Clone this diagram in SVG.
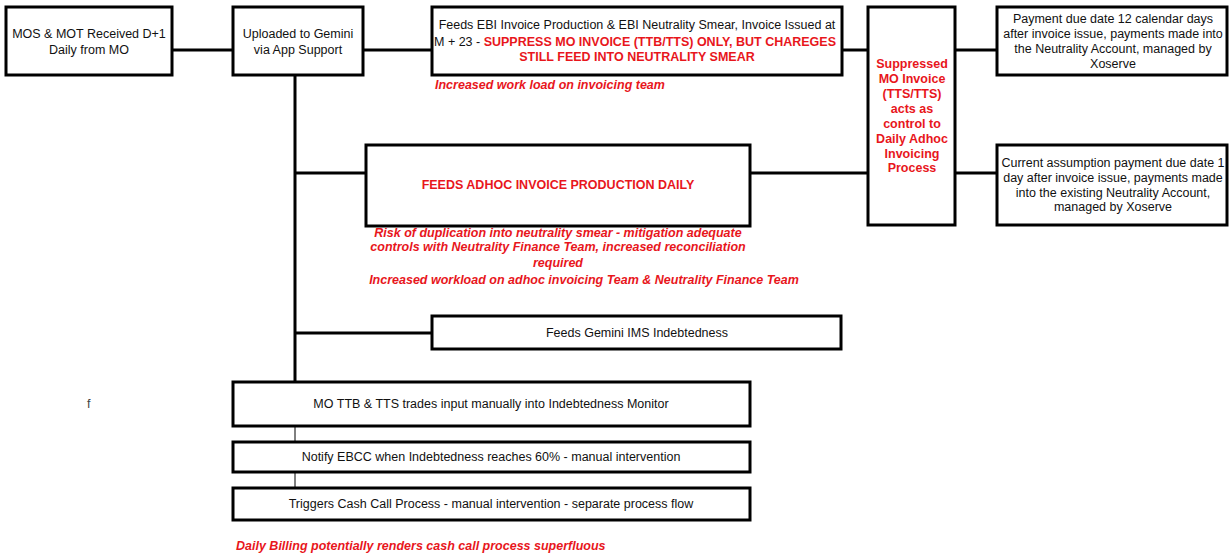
<svg xmlns="http://www.w3.org/2000/svg" width="1229" height="553" viewBox="0 0 1229 553">
<style>
.box{fill:#fff;stroke:#000;stroke-width:3}
.c{stroke:#000;stroke-width:3;fill:none}
.thin{stroke:#000;stroke-width:1;fill:none}
text{font-family:"Liberation Sans",Arial,sans-serif;font-size:12.5px;fill:#111}
.m{text-anchor:middle}
.r{fill:#e8161c;font-weight:bold}
.ri{fill:#e8161c;font-weight:bold;font-style:italic}
</style>
<rect width="1229" height="553" fill="#fff"/>
<g id="connectors">
<line class="c" x1="172" y1="50" x2="233" y2="50"/>
<line class="c" x1="363" y1="50" x2="432" y2="50"/>
<line class="c" x1="842" y1="50" x2="868" y2="50"/>
<line class="c" x1="955" y1="50" x2="997" y2="50"/>
<line class="c" x1="955" y1="173" x2="997" y2="173"/>
<line class="c" x1="750" y1="173" x2="868" y2="173"/>
<line class="c" x1="295" y1="76" x2="295" y2="382"/>
<line class="c" x1="295" y1="173" x2="366" y2="173"/>
<line class="c" x1="295" y1="333" x2="432" y2="333"/>
<line class="thin" x1="295" y1="426" x2="295" y2="442"/>
<line class="thin" x1="295" y1="472" x2="295" y2="488"/>
</g>
<g id="n1"><rect class="box" x="6" y="7" width="166" height="68"/>
<text class="m" x="89" y="38">MOS &amp; MOT Received D+1</text>
<text class="m" x="89" y="54">Daily from MO</text></g>
<g id="n2"><rect class="box" x="233" y="7" width="130" height="68"/>
<text class="m" x="298" y="38">Uploaded to Gemini</text>
<text class="m" x="298" y="54">via App Support</text></g>
<g id="n3"><rect class="box" x="432" y="7" width="410" height="68"/>
<text class="m" x="637" y="29">Feeds EBI Invoice Production &amp; EBI Neutrality Smear, Invoice Issued at</text>
<text x="434" y="46">M + 23 - <tspan class="r">SUPPRESS MO INVOICE (TTB/TTS) ONLY, BUT CHAREGES</tspan></text>
<text class="m r" x="637" y="61">STILL FEED INTO NEUTRALITY SMEAR</text></g>
<g id="note1"><text class="ri" x="435" y="89">Increased work load on invoicing team</text></g>
<g id="n4"><rect class="box" x="868" y="7" width="87" height="218"/>
<text class="m r" x="912" y="68">Suppressed</text>
<text class="m r" x="912" y="83">MO Invoice</text>
<text class="m r" x="912" y="98">(TTS/TTS)</text>
<text class="m r" x="912" y="113">acts as</text>
<text class="m r" x="912" y="128">control to</text>
<text class="m r" x="912" y="143">Daily Adhoc</text>
<text class="m r" x="912" y="158">Invoicing</text>
<text class="m r" x="912" y="172">Process</text></g>
<g id="n5"><rect class="box" x="997" y="7" width="230" height="68"/>
<text class="m" x="1113" y="23">Payment due date 12 calendar days</text>
<text class="m" x="1113" y="38">after invoice issue, payments made into</text>
<text class="m" x="1113" y="53">the Neutrality Account, managed by</text>
<text class="m" x="1113" y="68">Xoserve</text></g>
<g id="n6"><rect class="box" x="997" y="145" width="230" height="80"/>
<text class="m" x="1113" y="167">Current assumption payment due date 1</text>
<text class="m" x="1113" y="182">day after invoice issue, payments made</text>
<text class="m" x="1113" y="197">into the existing Neutrality Account,</text>
<text class="m" x="1113" y="211">managed by Xoserve</text></g>
<g id="n7"><rect class="box" x="366" y="145" width="384" height="81"/>
<text class="m r" x="558" y="189">FEEDS ADHOC INVOICE PRODUCTION DAILY</text></g>
<g id="note2">
<text class="m ri" x="558" y="237">Risk of duplication into neutrality smear - mitigation adequate</text>
<text class="m ri" x="558" y="251">controls with Neutrality Finance Team, increased reconciliation</text>
<text class="m ri" x="558" y="267">required</text>
<text class="m ri" x="584" y="284">Increased workload on adhoc invoicing Team &amp; Neutrality Finance Team</text></g>
<g id="n8"><rect class="box" x="432" y="316" width="409" height="33"/>
<text class="m" x="637" y="337">Feeds Gemini IMS Indebtedness</text></g>
<g id="n9"><rect class="box" x="233" y="382" width="517" height="44"/>
<text class="m" x="491" y="408">MO TTB &amp; TTS trades input manually into Indebtedness Monitor</text></g>
<g id="n10"><rect class="box" x="233" y="442" width="517" height="30"/>
<text class="m" x="491" y="461">Notify EBCC when Indebtedness reaches 60% - manual intervention</text></g>
<g id="n11"><rect class="box" x="233" y="488" width="517" height="32"/>
<text class="m" x="491" y="508">Triggers Cash Call Process - manual intervention - separate process flow</text></g>
<g id="note3"><text class="ri" x="236" y="550">Daily Billing potentially renders cash call process superfluous</text></g>
<g id="f"><text x="87" y="408" style="fill:#444">f</text></g>
</svg>
